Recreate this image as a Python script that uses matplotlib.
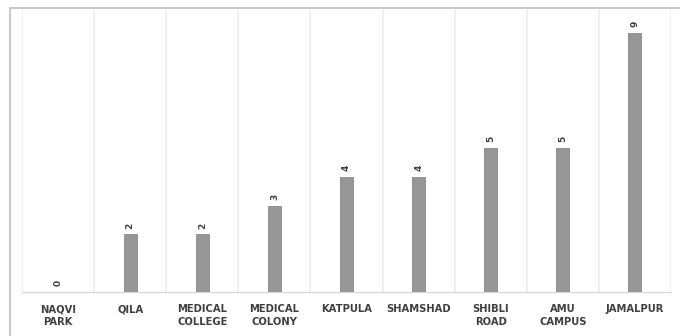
import matplotlib
matplotlib.use("Agg")
import matplotlib.pyplot as plt
from matplotlib.patches import Rectangle

# Chart data
categories = ["NAQVI\nPARK", "QILA", "MEDICAL\nCOLLEGE", "MEDICAL\nCOLONY", "KATPULA",
              "SHAMSHAD", "SHIBLI\nROAD", "AMU\nCAMPUS", "JAMALPUR"]
counts = [0, 2, 2, 3, 4, 4, 5, 5, 9]

W, H = 680, 336
fig = plt.figure(figsize=(W / 100, H / 100), dpi=100)
fig.patch.set_facecolor("white")

# outer chart border (cut off at right and bottom in the original)
fig.patches.append(Rectangle((10 / W, -0.1), 1.2, (H - 8) / H + 0.1, transform=fig.transFigure,
                             fill=False, edgecolor="#bfbfbf", linewidth=1.2))

ax = fig.add_axes([22 / W, 44 / H, (671 - 22) / W, (292 - 8) / H])
x = range(len(categories))
bars = ax.bar(x, counts, width=0.18, color="#969696", edgecolor="#8a8a8a", linewidth=0.6, zorder=3)

ax.set_xlim(-0.5, len(categories) - 0.5)
ax.set_ylim(0, 9.86)

# category separators
for b in [i - 0.5 for i in range(len(categories) + 1)]:
    ax.axvline(b, color="#ececec", linewidth=1.2, zorder=1)

for s in ["top", "left", "right"]:
    ax.spines[s].set_visible(False)
ax.spines["bottom"].set_color("#d9d9d9")
ax.spines["bottom"].set_linewidth(1)
ax.set_yticks([])
ax.set_xticks(list(x))
ax.set_xticklabels(categories, fontsize=7.2, fontweight="bold", color="#404040",
                   family="DejaVu Sans", linespacing=1.3, va="top")
ax.tick_params(axis="x", length=0, pad=9)

for rect, v in zip(bars, counts):
    ax.annotate(str(v), (rect.get_x() + rect.get_width() / 2, v), xytext=(0, 4),
                textcoords="offset points", rotation=90, ha="center", va="bottom",
                fontsize=6.5, fontweight="bold", color="#404040", family="DejaVu Sans")

fig.savefig("out.png", dpi=100, facecolor="white")
